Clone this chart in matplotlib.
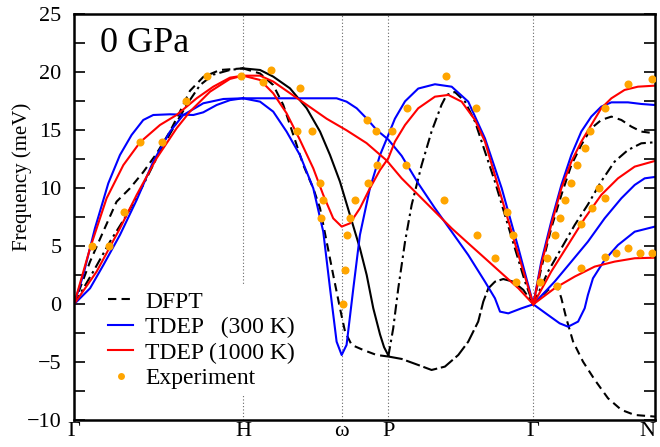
import matplotlib
matplotlib.use("Agg")
import matplotlib.pyplot as plt
from matplotlib.lines import Line2D

plt.rcParams['font.family'] = ['Liberation Serif', 'DejaVu Serif']

# high-symmetry points along the bcc path
kpt_labels = ['Γ', 'H', 'ω', 'P', 'Γ', 'N']
kpt_pos = [0.0, 1.0, 1.584, 1.860, 2.718, 3.438]

# ---------------- DFPT (0 K) ----------------
dfpt_gh1_k = [0, 0.095, 0.174, 0.252, 0.331, 0.410, 0.489, 0.568, 0.627, 0.686, 0.765, 0.864, 1.0]
dfpt_gh1_f = [0, 3.68, 6.3, 8.85, 10.0, 11.4, 13.0, 14.9, 16.6, 18.4, 19.6, 20.2, 20.34]
dfpt_gh2_k = [0, 0.114, 0.213, 0.312, 0.410, 0.509, 0.588, 0.667, 0.746, 0.824, 0.923, 1.0]
dfpt_gh2_f = [0, 2.82, 5.4, 7.7, 10.3, 13.2, 15.2, 17.2, 18.9, 19.8, 20.2, 20.34]

dfpt_hp1_k = [1.0, 1.101, 1.179, 1.278, 1.377, 1.456, 1.515, 1.574, 1.633, 1.692, 1.732, 1.771, 1.811, 1.835, 1.86]
dfpt_hp1_f = [20.34, 20.2, 19.63, 18.62, 16.9, 14.89, 12.87, 10.57, 7.70, 4.83, 2.53, -0.34, -2.6, -3.7, -4.4]
dfpt_hp2_k = [1.0, 1.101, 1.179, 1.238, 1.298, 1.357, 1.416, 1.456, 1.495, 1.534, 1.574, 1.604, 1.643, 1.712, 1.791, 1.86]
dfpt_hp2_f = [20.34, 19.9, 18.9, 17.2, 14.6, 12.0, 10.0, 8.28, 5.4, 2.53, -0.34, -2.36, -3.5, -3.94, -4.37, -4.5]

dfpt_pg1_k = [1.86, 1.939, 2.037, 2.116, 2.195, 2.274, 2.333, 2.392, 2.422, 2.452, 2.491, 2.540, 2.6, 2.659, 2.718]
dfpt_pg1_f = [-4.5, -4.71, -5.23, -5.66, -5.37, -4.37, -3.22, -1.49, 0.23, 1.38, 1.95, 2.18, 1.95, 1.24, 0]
dfpt_pg2_k = [1.86, 1.889, 1.919, 1.959, 1.998, 2.057, 2.116, 2.175, 2.205, 2.254, 2.314, 2.373, 2.432, 2.491, 2.550, 2.609, 2.669, 2.718]
dfpt_pg2_f = [-4.5, -2.07, 1.38, 5.4, 8.56, 12.0, 14.9, 17.2, 18.05, 18.3, 17.47, 15.75, 13.16, 10.57, 7.70, 4.83, 1.95, 0]

dfpt_gn1_k = [2.718, 2.765, 2.824, 2.884, 2.943, 3.002, 3.061, 3.120, 3.180, 3.239, 3.298, 3.357, 3.438]
dfpt_gn1_f = [0, 3.1, 6.55, 9.43, 12.0, 13.74, 15.17, 15.89, 16.18, 15.89, 15.32, 14.89, 14.74]
dfpt_gn2_k = [2.718, 2.805, 2.884, 2.963, 3.041, 3.120, 3.199, 3.278, 3.357, 3.438]
dfpt_gn2_f = [0, 2.82, 4.83, 6.84, 8.6, 10.6, 12.3, 13.3, 13.88, 13.97]
dfpt_gn3_k = [2.718, 2.805, 2.860, 2.884, 2.913, 2.953, 3.012, 3.081, 3.160, 3.239, 3.318, 3.438]
dfpt_gn3_f = [0, 1.24, 1.6, 0.52, -1.2, -3.2, -4.94, -6.5, -8.1, -9.1, -9.54, -9.68]

# ---------------- TDEP 300 K ----------------
t300_gh1_k = [0, 0.055, 0.124, 0.203, 0.272, 0.341, 0.410, 0.469, 0.568, 0.706, 0.765, 0.844, 0.923, 1.0]
t300_gh1_f = [0, 2.53, 6.55, 10.43, 12.87, 14.6, 15.89, 16.32, 16.38, 16.32, 16.55, 17.18, 17.6, 17.76]
t300_gh2_k = [0, 0.095, 0.174, 0.272, 0.371, 0.469, 0.568, 0.647, 0.765, 0.884, 1.0]
t300_gh2_f = [0, 1.38, 3.39, 5.98, 9.0, 12.3, 14.89, 16.32, 17.33, 17.7, 17.76]

t300_hg1_k = [1.0, 1.179, 1.377, 1.554, 1.613, 1.673, 1.731, 1.791, 1.86, 1.939, 2.037, 2.136, 2.235, 2.333, 2.432, 2.491, 2.521, 2.570, 2.649, 2.718]
t300_hg1_f = [17.76, 17.76, 17.76, 17.76, 17.47, 16.9, 16.03, 15.03, 14.2, 12.8, 10.43, 8.28, 6.26, 4.25, 1.95, 0.52, -0.63, -0.78, -0.34, 0]
t300_hg2_k = [1.0, 1.101, 1.179, 1.258, 1.337, 1.416, 1.475, 1.515, 1.554, 1.584, 1.613, 1.653, 1.692, 1.751, 1.811, 1.86, 1.899, 1.959, 2.037, 2.136, 2.235, 2.333, 2.432, 2.531, 2.63, 2.718]
t300_hg2_f = [17.76, 17.47, 16.61, 14.89, 12.87, 10.0, 6.26, 1.38, -3.22, -4.37, -3.5, 1.38, 5.98, 10.0, 12.87, 14.6, 16.0, 17.5, 18.6, 18.97, 18.76, 17.47, 14.3, 10.0, 4.83, 0]

t300_gn1_k = [2.718, 2.765, 2.824, 2.884, 2.943, 3.002, 3.061, 3.120, 3.180, 3.278, 3.357, 3.438]
t300_gn1_f = [0, 3.68, 7.13, 10.29, 12.87, 14.89, 16.18, 17.04, 17.41, 17.41, 17.27, 17.18]
t300_gn2_k = [2.718, 2.844, 2.943, 3.041, 3.140, 3.239, 3.318, 3.377, 3.438]
t300_gn2_f = [0, 1.95, 3.68, 5.40, 7.41, 9.14, 10.29, 10.86, 10.98]
t300_gn3_k = [2.718, 2.805, 2.874, 2.924, 2.983, 3.022, 3.041, 3.071, 3.140, 3.219, 3.318, 3.438]
t300_gn3_f = [0, -0.92, -1.64, -1.93, -1.49, -0.34, 0.8, 2.24, 3.82, 5.11, 6.26, 6.70]

# ---------------- TDEP 1000 K ----------------
t1000_gh1_k = [0, 0.095, 0.193, 0.292, 0.391, 0.509, 0.607, 0.726, 0.824, 0.923, 1.0]
t1000_gh1_f = [0, 4.83, 9.14, 12.0, 13.97, 15.46, 16.32, 17.76, 18.76, 19.54, 19.71]
t1000_gh2_k = [0, 0.134, 0.272, 0.371, 0.489, 0.607, 0.686, 0.805, 0.923, 1.0]
t1000_gh2_f = [0, 2.82, 6.55, 9.43, 12.59, 15.17, 16.61, 18.33, 19.43, 19.71]

t1000_hg1_k = [1.0, 1.101, 1.179, 1.278, 1.377, 1.495, 1.613, 1.731, 1.850, 1.939, 2.037, 2.136, 2.235, 2.333, 2.432, 2.531, 2.63, 2.718]
t1000_hg1_f = [19.71, 19.71, 19.2, 18.2, 17.2, 16.0, 15.0, 13.9, 12.4, 10.86, 9.43, 7.99, 6.55, 5.26, 3.97, 2.67, 1.38, 0]
t1000_hg2_k = [1.0, 1.101, 1.179, 1.258, 1.337, 1.416, 1.475, 1.534, 1.584, 1.633, 1.692, 1.751, 1.811, 1.86, 1.899, 1.959, 2.037, 2.136, 2.215, 2.294, 2.373, 2.432, 2.531, 2.63, 2.718]
t1000_hg2_f = [19.71, 19.34, 18.19, 16.47, 14.17, 11.72, 9.43, 7.41, 6.70, 6.98, 8.28, 10.0, 11.58, 12.59, 14.02, 15.46, 16.9, 17.9, 18.05, 17.47, 15.89, 14.02, 9.14, 4.25, 0]

t1000_gn1_k = [2.718, 2.765, 2.824, 2.884, 2.943, 3.002, 3.061, 3.120, 3.180, 3.258, 3.337, 3.438]
t1000_gn1_f = [0, 3.39, 6.84, 10.0, 12.3, 14.02, 15.46, 16.9, 17.76, 18.48, 18.76, 18.85]
t1000_gn2_k = [2.718, 2.824, 2.923, 3.022, 3.120, 3.219, 3.318, 3.438]
t1000_gn2_f = [0, 2.82, 5.11, 7.41, 9.43, 10.86, 11.87, 12.36]
t1000_gn3_k = [2.718, 2.844, 2.963, 3.081, 3.199, 3.318, 3.438]
t1000_gn3_f = [0, 1.38, 2.39, 3.25, 3.68, 3.97, 4.02]

# ---------------- inelastic neutron scattering ----------------
exp_k = [0.105, 0.209, 0.296, 0.391, 0.519, 0.661, 0.789, 0.990,
         1.116, 1.164, 1.337, 1.321, 1.410, 1.456, 1.473, 1.460, 1.617, 1.605, 1.590,
         1.665, 1.633, 1.742, 1.791, 1.736, 1.785, 1.880,
         2.199, 1.968, 2.377, 1.962, 2.191, 2.385, 2.491, 2.613, 2.564, 2.600,
         3.278, 3.420, 3.140, 3.051, 3.026, 2.979, 2.939, 2.904, 2.878, 2.845, 2.799,
         2.759, 2.860, 3.104, 3.140, 3.067, 2.998, 2.998, 3.140, 3.209, 3.278, 3.347, 3.420]
exp_f = [5.0, 5.0, 8.0, 14.0, 14.0, 17.5, 19.7, 19.7,
         19.2, 20.2, 18.68, 14.94, 14.94, 10.43, 8.99, 7.41, 5.98, 2.96, 0.0,
         8.99, 7.41, 10.43, 12.0, 15.89, 14.94, 14.94,
         19.71, 16.95, 16.95, 12.0, 8.99, 5.98, 4.02, 1.95, 7.99, 5.98,
         18.97, 19.43, 16.95, 14.94, 13.45, 12.01, 10.43, 8.99, 7.41, 5.98, 4.02,
         1.95, 1.58, 10.0, 9.14, 8.28, 6.90, 3.10, 4.11, 4.40, 4.83, 4.40, 4.45]

fig = plt.figure(figsize=(6.6, 4.47), dpi=100)
ax = fig.add_axes([0.1121, 0.0597, 0.8803, 0.9083])

dash = (0, (4, 2.5))
dashdot = (0, (5, 2, 1.2, 2))
longdash = (0, (7, 1.8))
lw = 1.5

# DFPT branches
ax.plot(dfpt_gh1_k, dfpt_gh1_f, color='black', lw=lw, ls=dash)
ax.plot(dfpt_gh2_k, dfpt_gh2_f, color='black', lw=lw, ls=dashdot)
ax.plot(dfpt_hp1_k, dfpt_hp1_f, color='black', lw=lw, ls='-')
ax.plot(dfpt_hp2_k, dfpt_hp2_f, color='black', lw=lw, ls=dash)
ax.plot(dfpt_pg1_k, dfpt_pg1_f, color='black', lw=lw, ls=longdash)
ax.plot(dfpt_pg2_k, dfpt_pg2_f, color='black', lw=lw, ls=dashdot)
ax.plot(dfpt_gn1_k, dfpt_gn1_f, color='black', lw=lw, ls=dash)
ax.plot(dfpt_gn2_k, dfpt_gn2_f, color='black', lw=lw, ls=dashdot)
ax.plot(dfpt_gn3_k, dfpt_gn3_f, color='black', lw=lw, ls=dash)

# TDEP 300 K
for k, f in [(t300_gh1_k, t300_gh1_f), (t300_gh2_k, t300_gh2_f),
             (t300_hg1_k, t300_hg1_f), (t300_hg2_k, t300_hg2_f),
             (t300_gn1_k, t300_gn1_f), (t300_gn2_k, t300_gn2_f),
             (t300_gn3_k, t300_gn3_f)]:
    ax.plot(k, f, color='#0000ff', lw=lw)

# TDEP 1000 K
for k, f in [(t1000_gh1_k, t1000_gh1_f), (t1000_gh2_k, t1000_gh2_f),
             (t1000_hg1_k, t1000_hg1_f), (t1000_hg2_k, t1000_hg2_f),
             (t1000_gn1_k, t1000_gn1_f), (t1000_gn2_k, t1000_gn2_f),
             (t1000_gn3_k, t1000_gn3_f)]:
    ax.plot(k, f, color='#ff0000', lw=lw)

ax.plot(exp_k, exp_f, ls='none', marker='o', ms=5.8, color='#ffa500',
        markeredgewidth=0, zorder=5)

# vertical guides at the interior high-symmetry points
for xv in kpt_pos[1:-1]:
    ax.axvline(xv, color='#666666', lw=0.8, ls=(0, (1, 2)), zorder=0)

ax.set_xlim(kpt_pos[0], kpt_pos[-1])
ax.set_ylim(-10, 25)
ax.set_xticks(kpt_pos)
ax.set_xticklabels(kpt_labels)
ax.get_xticklabels()[-1].set_horizontalalignment('right')
ax.tick_params(axis='x', length=0, labelsize=16, pad=1)
ax.set_yticks(range(-10, 26, 5))
ax.set_yticks([v + 2.5 for v in range(-10, 25, 5)], minor=True)
ax.tick_params(axis='y', which='both', direction='in', right=True, labelsize=16, pad=9)
ax.tick_params(axis='y', which='major', length=8, width=1.2)
ax.tick_params(axis='y', which='minor', length=8, width=1.2)
for s in ax.spines.values():
    s.set_linewidth(1.8)

ax.set_ylabel('Frequency (meV)', fontsize=15)
ax.yaxis.set_label_coords(-0.072, 0.60)
ax.text(0.045, 0.927, '0 GPa', transform=ax.transAxes, fontsize=26, va='center', ha='left')

handles = [
    Line2D([], [], color='black', lw=lw, ls=dash),
    Line2D([], [], color='#0000ff', lw=lw),
    Line2D([], [], color='#ff0000', lw=lw),
    Line2D([], [], ls='none', marker='o', ms=5, color='#ffa500', markeredgewidth=0),
]
labels = ['DFPT', 'TDEP   (300 K)', 'TDEP (1000 K)', 'Experiment']
leg = ax.legend(handles, labels, loc='upper left', bbox_to_anchor=(0.0465, 0.336),
                fontsize=17, frameon=True, fancybox=False, edgecolor='none',
                facecolor='white', framealpha=1, handlelength=1.06,
                handletextpad=0.5, labelspacing=0.17, borderpad=0.3,
                borderaxespad=0)
leg.set_zorder(6)

fig.savefig('out.png', dpi=100)
